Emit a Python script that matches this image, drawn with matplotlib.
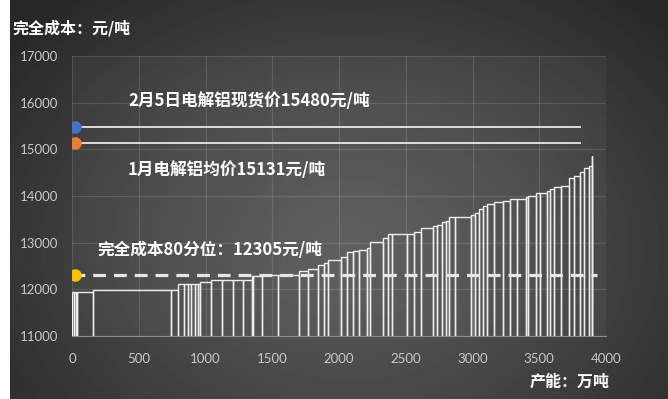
import numpy as np
import matplotlib.pyplot as plt

plt.rcParams['font.family'] = ['Noto Sans CJK SC', 'DejaVu Sans']

# 电解铝产能（万吨）与完全成本（元/吨），按成本由低到高排序
capacity = [15, 12, 13, 120, 579, 55, 45, 30, 25, 25, 25, 15, 80, 82, 83, 75, 67,
            12, 63, 124, 155, 70, 75, 45, 30, 93, 49, 45, 45, 55, 25, 100, 37,
            25, 117, 53, 48, 94, 25, 38, 32, 25, 43, 117, 32, 33, 30, 25, 57, 63,
            55, 50, 69, 18, 57, 30, 55, 20, 30, 50, 60, 42, 43, 30, 40, 17, 6]
cost = [11935, 11935, 11935, 11935, 11990, 11990, 12115, 12115, 12115, 12115,
        12115, 12115, 12150, 12205, 12205, 12205, 12205, 12285, 12285, 12305,
        12315, 12400, 12440, 12520, 12570, 12620, 12685, 12805, 12830, 12845,
        12880, 13020, 13095, 13180, 13180, 13180, 13235, 13310, 13355, 13385,
        13435, 13470, 13540, 13540, 13595, 13630, 13715, 13785, 13820, 13865,
        13900, 13940, 13940, 13970, 14005, 14060, 14060, 14100, 14150, 14185,
        14215, 14380, 14435, 14520, 14595, 14645, 14855]

spot_price = 15480   # 2月5日现货价
jan_avg = 15131      # 1月均价
p80_cost = 12305     # 完全成本80分位

fig = plt.figure(figsize=(6.68, 3.99), dpi=100)
fig.patch.set_facecolor('white')

# 深灰色径向渐变背景
bg = fig.add_axes([10 / 668, 0, 658 / 668, 1])
bg.axis('off')
W, H = 658, 399
xx, yy = np.meshgrid(np.arange(W), np.arange(H))
d = np.sqrt(((xx - 340) / 430) ** 2 + ((yy - 250) / 330) ** 2)
shade = 0.35 - 0.19 * np.clip(d, 0, 1) ** 1.3
bg.imshow(shade, cmap='gray', vmin=0, vmax=1, extent=[0, W, H, 0], aspect='auto')
bg.set_xlim(0, W)
bg.set_ylim(H, 0)

ax = fig.add_axes([72 / 668, 63 / 399, 534 / 668, 280 / 399])
ax.set_facecolor((1, 1, 1, 0.04))

left = np.concatenate([[0], np.cumsum(capacity)[:-1]])
ax.bar(left, cost, width=capacity, align='edge', fill=False,
       edgecolor='#ededed', linewidth=1.0, zorder=3)

ax.plot([0, 3805], [spot_price, spot_price], color='#dcdcdc', lw=1.4, zorder=4)
ax.plot([0, 3805], [jan_avg, jan_avg], color='#dcdcdc', lw=1.4, zorder=4)
ax.plot([0, 3930], [p80_cost, p80_cost], color='#e6e6e6', lw=2.3,
        dashes=(4, 2.5), zorder=4)

ax.plot(20, spot_price, 'o', color='#4472c4', ms=8, zorder=5)
ax.plot(20, jan_avg, 'o', color='#ed7d31', ms=8, zorder=5)
ax.plot(20, p80_cost, 'o', color='#ffc000', ms=8, zorder=5)

txt = dict(color='white', fontsize=12, fontweight='bold', va='center', ha='left', zorder=6)
ax.text(420, 16035, f'2月5日电解铝现货价{spot_price}元/吨', **txt)
ax.text(420, 14557, f'1月电解铝均价{jan_avg}元/吨', **txt)
ax.text(187, 12843, f'完全成本80分位：{p80_cost}元/吨', **txt)

ax.set_xlim(0, 4000)
ax.set_ylim(11000, 17000)
ax.set_xticks(np.arange(0, 4001, 500))
ax.set_yticks(np.arange(11000, 17001, 1000))
ax.grid(True, color='white', alpha=0.12, lw=0.9, zorder=0)
ax.set_axisbelow(True)
for s in ['top', 'right', 'left']:
    ax.spines[s].set_visible(False)
ax.spines['bottom'].set_color('#8c8c8c')
ax.tick_params(length=0, colors='#c8c8c8', labelsize=9.5)
ax.tick_params(axis='x', pad=12)
ax.tick_params(axis='y', pad=10)
for lab in ax.get_xticklabels() + ax.get_yticklabels():
    lab.set_family('Lato')

fig.text(12 / 668, 1 - 28 / 399, '完全成本：元/吨', color='white', fontsize=11.5,
         fontweight='bold', va='center', ha='left')
fig.text(530 / 668, 1 - 382 / 399, '产能：万吨', color='white', fontsize=11.5,
         fontweight='bold', va='center', ha='left')

fig.savefig('out.png', dpi=100)
